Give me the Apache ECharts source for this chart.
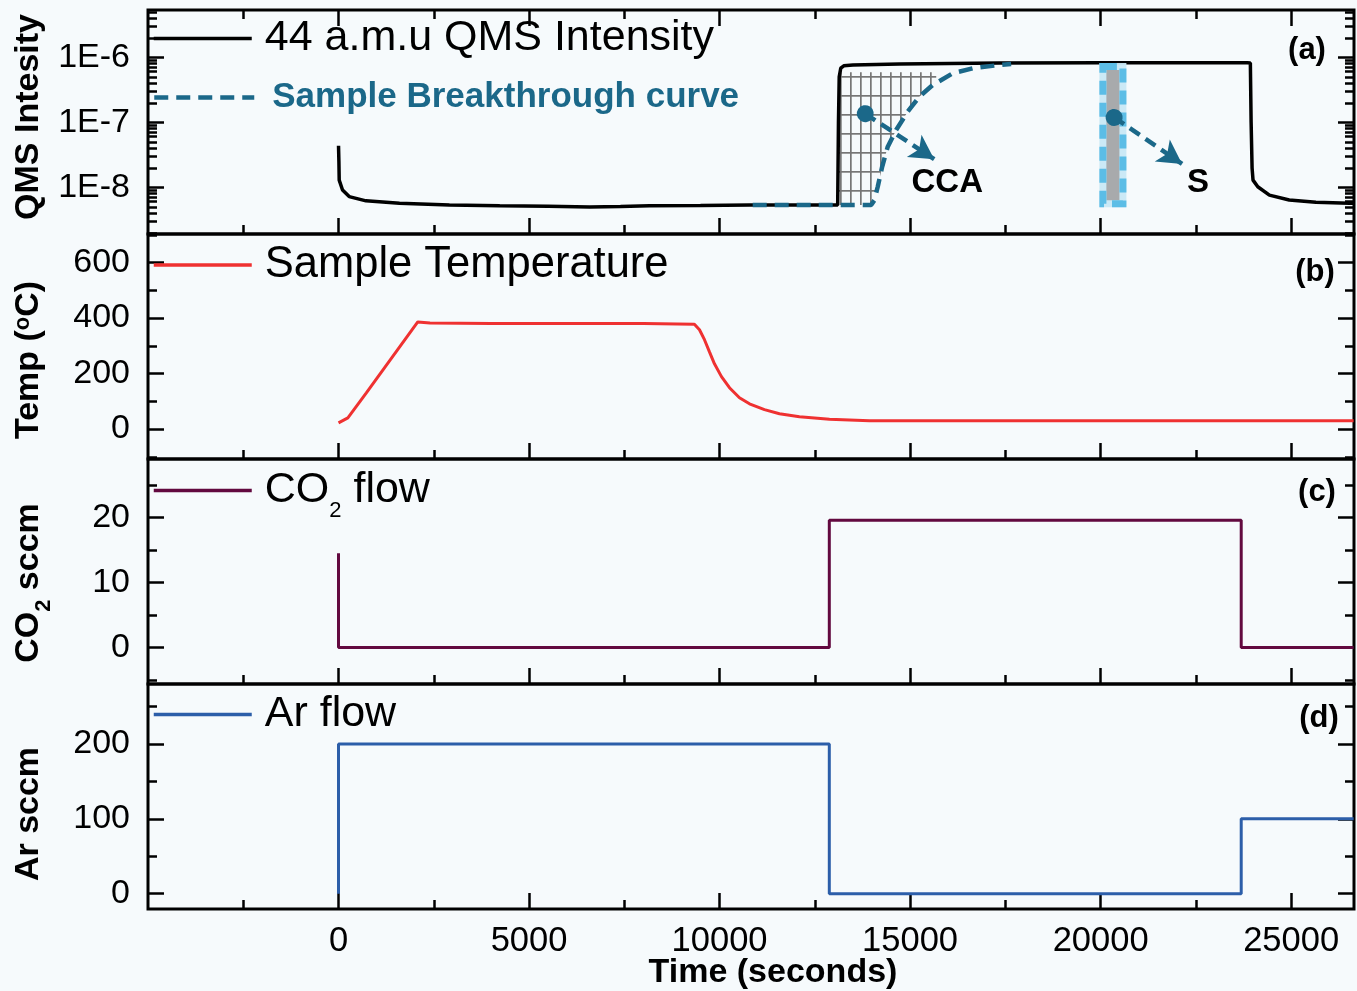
<!DOCTYPE html>
<html>
<head>
<meta charset="utf-8">
<script src="https://cdn.jsdelivr.net/npm/echarts@6/dist/echarts.min.js"></script>
<style>
  html, body { margin: 0; padding: 0; background: #f6fafc; }
  #chart { width: 1357px; height: 991px; }
</style>
</head>
<body>
<div id="chart"></div>
<script>
// ---- data (time in seconds) ----
const qmsTime = [0, 10, 18, 105, 280, 720, 1600, 2910, 4230, 5500, 6590, 7400, 8160, 9500, 10790, 12000, 13100, 13120, 13140, 13180, 13260, 13500, 14720, 17350, 20000, 23850, 23930, 23950, 23975, 24000, 24125, 24430, 24950, 25650, 26530, 26640]
const qmsIntensity = [4.37e-8, 2.5e-8, 1.29e-8, 9.1e-9, 7.2e-9, 6.2e-9, 5.7e-9, 5.35e-9, 5.2e-9, 5.1e-9, 5.0e-9, 5.05e-9, 5.2e-9, 5.25e-9, 5.35e-9, 5.35e-9, 5.35e-9, 1.0e-7, 5.0e-7, 6.8e-7, 7.4e-7, 7.6e-7, 7.9e-7, 8.17e-7, 8.25e-7, 8.26e-7, 8.2e-7, 1.0e-7, 2.0e-8, 1.29e-8, 1.02e-8, 7.6e-9, 6.4e-9, 5.9e-9, 5.7e-9, 5.7e-9]

const breakTime = [10870, 13978, 14060, 14151, 14267, 14414, 14634, 14938, 15245, 15594, 16119, 16644, 17345, 17652]
const breakIntensity = [5.35e-9, 5.35e-9, 6.3e-9, 1.02e-8, 2.07e-8, 4.22e-8, 7.62e-8, 1.46e-7, 2.48e-7, 3.75e-7, 5.68e-7, 6.78e-7, 7.62e-7, 7.89e-7]

// CCA hatched region: between the step-up and the breakthrough curve
const hatchTime = [13133, 13978, 14060, 14151, 14267, 14414, 14634, 14938, 15245, 15594, 15686]
const hatchLow = [5.35e-9, 5.35e-9, 6.3e-9, 1.02e-8, 2.07e-8, 4.22e-8, 7.62e-8, 1.46e-7, 2.48e-7, 3.75e-7, 3.9e-7]
const hatchHigh = [5.9e-7, 5.9e-7, 5.9e-7, 5.9e-7, 5.9e-7, 5.9e-7, 5.9e-7, 5.9e-7, 5.9e-7, 5.9e-7, 5.9e-7]

// S band
const sBandTime = [20060, 20585]
const sBandIntensity = [5.6e-9, 7.2e-7]

// annotation pointers: [dot, arrow tip, label]
const ccaPointer = [[13823, 1.36e-7], [15633, 2.71e-8], [15975, 1.15e-8]]
const sPointer = [[20355, 1.19e-7], [22138, 2.29e-8], [22558, 1.15e-8]]

const tempTime = [0, 245, 730, 2080, 2400, 4000, 6000, 8000, 9340, 9473, 9604, 9735, 9866, 10050, 10260, 10522, 10785, 11178, 11572, 12097, 12884, 13933, 16000, 20000, 24000, 26640]
const tempValue = [22, 40, 130, 386, 382, 380, 380, 380, 378, 358, 322, 278, 235, 189, 149, 113, 91, 70, 55, 44, 35, 30, 30, 30, 30, 30]

const co2Time = [0, 0, 12880, 12880, 23690, 23690, 26640]
const co2Flow = [14.5, 0, 0, 19.6, 19.6, 0, 0]

const arTime = [0, 0, 12880, 12880, 23690, 23690, 26640]
const arFlow = [0, 200, 200, 0, 0, 100, 100]

// tick values
const xTicks = [0, 5000, 10000, 15000, 20000, 25000]
const xMinorTicks = [-2500, 2500, 7500, 12500, 17500, 22500]
const qmsDecades = [-8, -7, -6]
const tempTicks = [0, 200, 400, 600]
const tempMinor = [-100, 100, 300, 500, 700]
const co2Ticks = [0, 10, 20]
const co2Minor = [-5, 5, 15, 25]
const arTicks = [0, 100, 200]
const arMinor = [50, 150, 250]

// ---- styling ----
const FONT = 'Liberation Sans, Arial, sans-serif'
const COLORS = {
  qms: '#000000',
  breakthrough: '#1b6889',
  temp: '#ef3131',
  co2: '#62093f',
  ar: '#2c5ea9',
  hatch: '#767676',
}
const X_MIN = -5000
const X_MAX = 26650
const panels = [
  { top: 10, height: 224, min: -8.718, max: -5.272 },
  { top: 234, height: 225, min: -108, max: 703 },
  { top: 459, height: 225, min: -5.6, max: 29.0 },
  { top: 684, height: 225, min: -20.4, max: 280 },
]

// log-scale minor ticks for the QMS panel
const qmsMinor = []
for (let n = -9; n <= -6; n++) {
  for (let k = 2; k <= 9; k++) qmsMinor.push(Math.log10(k) + n)
}
const panelTicks = [
  { major: qmsDecades, minor: qmsMinor, fmt: (v) => '1E' + v },
  { major: tempTicks, minor: tempMinor, fmt: (v) => String(v) },
  { major: co2Ticks, minor: co2Minor, fmt: (v) => String(v) },
  { major: arTicks, minor: arMinor, fmt: (v) => String(v) },
]

const toLog = (times, vals) => times.map((t, i) => [t, Math.log10(vals[i])])
const pairs = (times, vals) => times.map((t, i) => [t, vals[i]])

// grid hatch pattern
const hatchCanvas = document.createElement('canvas')
hatchCanvas.width = 10
hatchCanvas.height = 19
const hctx = hatchCanvas.getContext('2d')
hctx.fillStyle = COLORS.hatch
hctx.fillRect(0, 0, 1.7, 19)
hctx.fillRect(0, 0, 10, 1.7)

const tickStyle = { color: '#000', width: 2.5 }

// ---- axes ----
const xAxis = []
const yAxis = []
const xMajorIndex = []
const yMajorIndex = []

panels.forEach((p, gi) => {
  const last = gi === panels.length - 1
  const xSides = gi === 0 ? ['bottom', 'top'] : ['bottom']
  xSides.forEach((pos) => {
    if (pos === 'bottom') xMajorIndex.push(xAxis.length)
    xAxis.push({
      type: 'value', gridIndex: gi, position: pos, min: X_MIN, max: X_MAX,
      axisLine: { show: false, onZero: false },
      splitLine: { show: false },
      axisTick: { show: true, inside: true, length: 16, lineStyle: tickStyle, customValues: xTicks },
      axisLabel: {
        show: last && pos === 'bottom', customValues: xTicks, margin: 15,
        formatter: (v) => String(v),
        fontSize: 34.5, fontFamily: FONT, color: '#000',
      },
    })
    xAxis.push({
      type: 'value', gridIndex: gi, position: pos, min: X_MIN, max: X_MAX,
      axisLine: { show: false, onZero: false },
      splitLine: { show: false },
      axisTick: { show: true, inside: true, length: 9, lineStyle: tickStyle, customValues: xMinorTicks },
      axisLabel: { show: false },
    })
  })

  const t = panelTicks[gi]
  ;['left', 'right'].forEach((pos) => {
    if (pos === 'left') yMajorIndex.push(yAxis.length)
    yAxis.push({
      type: 'value', gridIndex: gi, position: pos, min: p.min, max: p.max,
      axisLine: { show: false, onZero: false },
      splitLine: { show: false },
      axisTick: { show: true, inside: true, length: 16, lineStyle: tickStyle, customValues: t.major },
      axisLabel: {
        show: pos === 'left', customValues: t.major, margin: 18, formatter: t.fmt,
        fontSize: 34, fontFamily: FONT, color: '#000',
      },
    })
    yAxis.push({
      type: 'value', gridIndex: gi, position: pos, min: p.min, max: p.max,
      axisLine: { show: false, onZero: false },
      splitLine: { show: false },
      axisTick: { show: true, inside: true, length: 9, lineStyle: tickStyle, customValues: t.minor },
      axisLabel: { show: false },
    })
  })
})

const grid = panels.map((p) => ({
  left: 148, right: 3, top: p.top, height: p.height,
  show: true, borderColor: '#000', borderWidth: 3, backgroundColor: 'transparent',
}))

const onPanel = (gi) => ({ xAxisIndex: xMajorIndex[gi], yAxisIndex: yMajorIndex[gi] })

const pointerLine = (ptr) => [
  { coord: [ptr[0][0], Math.log10(ptr[0][1])], symbol: 'circle', symbolSize: 17 },
  { coord: [ptr[1][0], Math.log10(ptr[1][1])], symbol: 'arrow', symbolSize: [20, 24] },
]
const pointerLabel = (ptr, text) => ({
  name: text, coord: [ptr[2][0], Math.log10(ptr[2][1])],
})

const series = [
  {
    name: 'hatch', type: 'custom', ...onPanel(0), z: 1, silent: true,
    data: [[hatchTime[0], Math.log10(hatchHigh[0])]],
    renderItem: (params, api) => {
      const pts = hatchTime.map((t, i) => api.coord([t, Math.log10(hatchHigh[i])]))
      for (let i = hatchTime.length - 1; i >= 0; i--) {
        pts.push(api.coord([hatchTime[i], Math.log10(hatchLow[i])]))
      }
      return {
        type: 'polygon', shape: { points: pts },
        style: { fill: { image: hatchCanvas, repeat: 'repeat' }, stroke: null },
      }
    },
  },
  {
    name: '44 a.m.u QMS Intensity', type: 'line', ...onPanel(0), z: 3,
    data: toLog(qmsTime, qmsIntensity), symbol: 'none', showSymbol: false,
    lineStyle: { color: COLORS.qms, width: 3.5 }, itemStyle: { color: COLORS.qms },
  },
  {
    name: 'sband', type: 'custom', ...onPanel(0), z: 4, silent: true,
    data: [[sBandTime[0], Math.log10(sBandIntensity[0])]],
    renderItem: (params, api) => {
      const a = api.coord([sBandTime[0], Math.log10(sBandIntensity[1])])
      const b = api.coord([sBandTime[1], Math.log10(sBandIntensity[0])])
      const w = b[0] - a[0]
      const h = b[1] - a[1]
      return {
        type: 'group',
        children: [
          { type: 'rect', shape: { x: a[0] - 3.5, y: a[1] - 3.5, width: w + 7, height: h + 7 },
            style: { fill: 'rgba(200,232,246,0.95)' } },
          { type: 'rect', shape: { x: a[0] + 3.5, y: a[1] + 3.5, width: w - 7, height: h - 7 },
            style: { fill: '#a8aaac' } },
          { type: 'rect', shape: { x: a[0], y: a[1], width: w, height: h },
            style: { fill: null, stroke: '#5cbde6', lineWidth: 7, lineDash: [14, 8] } },
        ],
      }
    },
  },
  {
    name: 'Sample Breakthrough curve', type: 'line', ...onPanel(0), z: 5,
    data: toLog(breakTime, breakIntensity), symbol: 'none', showSymbol: false,
    lineStyle: { color: COLORS.breakthrough, width: 4.5, type: [14, 8] },
    itemStyle: { color: COLORS.breakthrough },
    markLine: {
      silent: true, animation: false,
      label: { show: false },
      lineStyle: { color: COLORS.breakthrough, width: 4.5, type: [12, 7] },
      data: [pointerLine(ccaPointer), pointerLine(sPointer)],
    },
    markPoint: {
      silent: true, symbol: 'circle', symbolSize: 1,
      itemStyle: { color: 'rgba(0,0,0,0)' },
      label: {
        show: true, position: 'inside', formatter: '{b}',
        fontSize: 33, fontWeight: 'bold', fontFamily: FONT, color: '#000',
      },
      data: [pointerLabel(ccaPointer, 'CCA'), pointerLabel(sPointer, 'S')],
    },
  },
  {
    name: 'Sample Temperature', type: 'line', ...onPanel(1),
    data: pairs(tempTime, tempValue), symbol: 'none', showSymbol: false,
    lineStyle: { color: COLORS.temp, width: 3 }, itemStyle: { color: COLORS.temp },
  },
  {
    name: 'CO2 flow', type: 'line', ...onPanel(2),
    data: pairs(co2Time, co2Flow), symbol: 'none', showSymbol: false,
    lineStyle: { color: COLORS.co2, width: 3 }, itemStyle: { color: COLORS.co2 },
  },
  {
    name: 'Ar flow', type: 'line', ...onPanel(3),
    data: pairs(arTime, arFlow), symbol: 'none', showSymbol: false,
    lineStyle: { color: COLORS.ar, width: 3 }, itemStyle: { color: COLORS.ar },
  },
]

const legendText = { fontSize: 43, fontFamily: FONT, color: '#000', padding: [0, 0, 0, 8] }
const legendBase = {
  left: 152, padding: 0, itemWidth: 98, itemHeight: 14, selectedMode: false,
  itemStyle: { opacity: 0 },
  lineStyle: { width: 3.5 },
}
const legend = [
  { ...legendBase, top: 17, data: ['44 a.m.u QMS Intensity'], textStyle: legendText },
  {
    ...legendBase, top: 80, itemWidth: 100, data: ['Sample Breakthrough curve'],
    lineStyle: { width: 4.5 },
    textStyle: { fontSize: 35, fontWeight: 'bold', fontFamily: FONT, color: COLORS.breakthrough, padding: [0, 0, 0, 13] },
  },
  { ...legendBase, top: 243, data: ['Sample Temperature'], textStyle: { ...legendText, fontSize: 43.5 } },
  {
    ...legendBase, top: 469, data: ['CO2 flow'],
    formatter: () => 'CO{sub|2} flow',
    textStyle: {
      ...legendText,
      rich: { sub: { fontSize: 22, fontFamily: FONT, color: '#000', verticalAlign: 'top', padding: [40, 0, 0, 0] } },
    },
  },
  { ...legendBase, top: 693, data: ['Ar flow'], textStyle: legendText },
]

const titleFont = { fontSize: 34, fontWeight: 'bold', fontFamily: FONT, fill: '#000' }
const vTitle = (x, y, text, rich) => ({
  type: 'text', x, y, rotation: Math.PI / 2,
  style: { ...titleFont, text, align: 'center', verticalAlign: 'middle', rich },
})
const tag = (x, y, text) => ({
  type: 'text', x, y,
  style: { fontSize: 31, fontWeight: 'bold', fontFamily: FONT, fill: '#000', text, align: 'center', verticalAlign: 'middle' },
})

const graphic = [
  vTitle(29, 117, 'QMS Intesity'),
  vTitle(29, 360, 'Temp ({sup|o}C)', {
    sup: { fontSize: 22, fontWeight: 'bold', fontFamily: FONT, fill: '#000', verticalAlign: 'top' },
  }),
  vTitle(29, 583, 'CO{sub|2} sccm', {
    sub: { fontSize: 22, fontWeight: 'bold', fontFamily: FONT, fill: '#000', verticalAlign: 'bottom', padding: [30, 0, 0, 0] },
  }),
  vTitle(29, 814, 'Ar sccm'),
  tag(1307, 50, '(a)'),
  tag(1315, 272, '(b)'),
  tag(1317, 492, '(c)'),
  tag(1319, 718, '(d)'),
  {
    type: 'text', x: 773, y: 973,
    style: { ...titleFont, text: 'Time (seconds)', align: 'center', verticalAlign: 'middle' },
  },
]

const chart = echarts.init(document.getElementById('chart'), null, { renderer: 'canvas' })
chart.setOption({
  animation: false,
  backgroundColor: '#f6fafc',
  grid,
  xAxis,
  yAxis,
  legend,
  graphic,
  series,
})
</script>
</body>
</html>
